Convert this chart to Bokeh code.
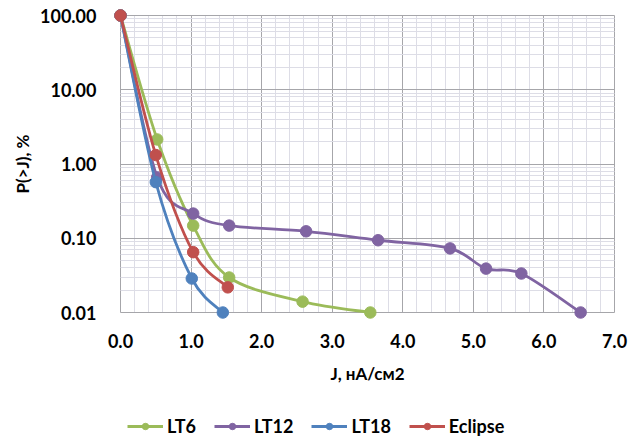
import numpy as np
from bokeh.plotting import figure
from bokeh.layouts import column
from bokeh.models import FixedTicker, PrintfTickFormatter, Legend, LegendItem, Range1d
from bokeh.embed import file_html
from bokeh.resources import INLINE

# ---- data ----
lt6_x = [0.0, 0.52, 1.03, 1.54, 2.58, 3.54]
lt6_y = [100, 2.14, 0.148, 0.0296, 0.014, 0.01]
lt12_x = [0.0, 0.52, 1.03, 1.54, 2.63, 3.65, 4.67, 5.18, 5.68, 6.52]
lt12_y = [100, 0.66, 0.215, 0.148, 0.124, 0.094, 0.073, 0.039, 0.0335, 0.01]
lt18_x = [0.0, 0.5, 1.01, 1.45]
lt18_y = [100, 0.57, 0.0287, 0.01]
ecl_x = [0.0, 0.5, 1.03, 1.52]
ecl_y = [100, 1.32, 0.065, 0.0218]

series_names = ["LT6", "LT12", "LT18", "Eclipse"]
series_colors = ["#9BBB59", "#8064A2", "#4F81BD", "#C0504D"]
series_data = [(lt6_x, lt6_y), (lt12_x, lt12_y), (lt18_x, lt18_y), (ecl_x, ecl_y)]

x_ticks = [0, 1, 2, 3, 4, 5, 6, 7]
y_ticks = [0.01, 0.1, 1, 10, 100]

FONT = "Lato"
LW = 2.8
MS = 11.5

# data area 494 x 297 px; frame padded by 7 px so edge markers are not clipped
PAD = 7
xpad = PAD * 7.0 / 494
ypad = PAD * 4.0 / 297

p = figure(width=628, height=401, y_axis_type="log",
           x_range=Range1d(0 - xpad, 7 + xpad),
           y_range=Range1d(0.01 * 10 ** (-ypad), 100 * 10 ** ypad),
           output_backend="svg", toolbar_location=None,
           min_border_left=113, min_border_top=8, min_border_right=7, min_border_bottom=82)
p.outline_line_color = None
p.background_fill_color = "white"

# ticks / grids
x_minor = [round(i * 0.2, 1) for i in range(36) if i % 5 != 0]
y_minor = [m * d for d in [0.01, 0.1, 1, 10] for m in range(2, 10)]
p.xaxis.ticker = FixedTicker(ticks=x_ticks, minor_ticks=x_minor)
p.yaxis.ticker = FixedTicker(ticks=y_ticks, minor_ticks=y_minor)
p.xaxis.formatter = PrintfTickFormatter(format="%.1f")
p.yaxis.formatter = PrintfTickFormatter(format="%.2f")

for g in (p.xgrid, p.ygrid):
    g.grid_line_color = "#A6A6AA"
    g.grid_line_width = 1
    g.minor_grid_line_color = "#DDDDE6"
    g.minor_grid_line_width = 1
p.xgrid.bounds = (0, 7)
p.ygrid.bounds = (0.01, 100)
p.xgrid.cross_bounds = (0.01, 100)
p.ygrid.cross_bounds = (0, 7)

for ax in (p.xaxis, p.yaxis):
    ax.axis_line_color = None
    ax.major_tick_line_color = None
    ax.minor_tick_line_color = None
    ax.major_label_text_font = FONT
    ax.major_label_text_font_style = "bold"
    ax.major_label_text_font_size = "18px"
    ax.major_label_text_color = "black"
    ax.axis_label_text_font = FONT
    ax.axis_label_text_font_style = "bold"
    ax.axis_label_text_font_size = "17px"
    ax.axis_label_text_color = "black"

p.xaxis.axis_label = "J, нА/см2"
p.yaxis.axis_label = "P(>J), %"
p.xaxis.major_label_standoff = 8
p.xaxis.axis_label_standoff = 12
p.yaxis.major_label_standoff = 11
p.yaxis.axis_label_standoff = 4


def smooth_segments(xs, ys):
    X = np.array(xs, float)
    L = np.log10(np.array(ys, float))
    n = len(X)
    out = {k: [] for k in ["x0", "y0", "x1", "y1", "cx0", "cy0", "cx1", "cy1"]}
    for i in range(n - 1):
        a = i - 1 if i > 0 else i
        b = i + 2 if i + 2 < n else i + 1
        cx0 = X[i] + (X[i + 1] - X[a]) / 6
        cl0 = L[i] + (L[i + 1] - L[a]) / 6
        cx1 = X[i + 1] - (X[b] - X[i]) / 6
        cl1 = L[i + 1] - (L[b] - L[i]) / 6
        out["x0"].append(X[i]); out["y0"].append(10 ** L[i])
        out["x1"].append(X[i + 1]); out["y1"].append(10 ** L[i + 1])
        out["cx0"].append(cx0); out["cy0"].append(10 ** cl0)
        out["cx1"].append(cx1); out["cy1"].append(10 ** cl1)
    return out


for name, color, (xs, ys) in zip(series_names, series_colors, series_data):
    s = smooth_segments(xs, ys)
    p.bezier(x0=s["x0"], y0=s["y0"], x1=s["x1"], y1=s["y1"],
             cx0=s["cx0"], cy0=s["cy0"], cx1=s["cx1"], cy1=s["cy1"],
             line_color=color, line_width=LW)
    p.scatter(xs, ys, size=MS, fill_color=color, line_color=color)

# ---- legend strip (separate small figure under the chart) ----
# its ranges lie away from the data, so the series renderers there only feed the legend swatches
lg = figure(width=628, height=36, x_range=Range1d(-20, -10), y_range=Range1d(-20, -10),
            output_backend="svg", toolbar_location=None,
            x_axis_location=None, y_axis_location=None,
            min_border_left=113, min_border_right=7, min_border_top=0, min_border_bottom=0)
lg.outline_line_color = None
lg.xgrid.visible = False
lg.ygrid.visible = False
items = []
for name, color, (xs, ys) in zip(series_names, series_colors, series_data):
    r1 = lg.line(xs, ys, line_color=color, line_width=LW)
    r2 = lg.scatter(xs, ys, size=9.5, fill_color=color, line_color=color)
    items.append(LegendItem(label=name, renderers=[r1, r2]))

legend = Legend(items=items, orientation="horizontal", location=(14, 0),
                label_text_font=FONT, label_text_font_style="bold",
                label_text_font_size="18px", label_text_color="black",
                glyph_width=36, glyph_height=16, spacing=18, label_standoff=4,
                padding=0, margin=0, border_line_color=None,
                background_fill_alpha=0)
lg.add_layout(legend)

layout = column(p, lg, spacing=0)
open("out.html", "w").write(file_html(layout, INLINE))
